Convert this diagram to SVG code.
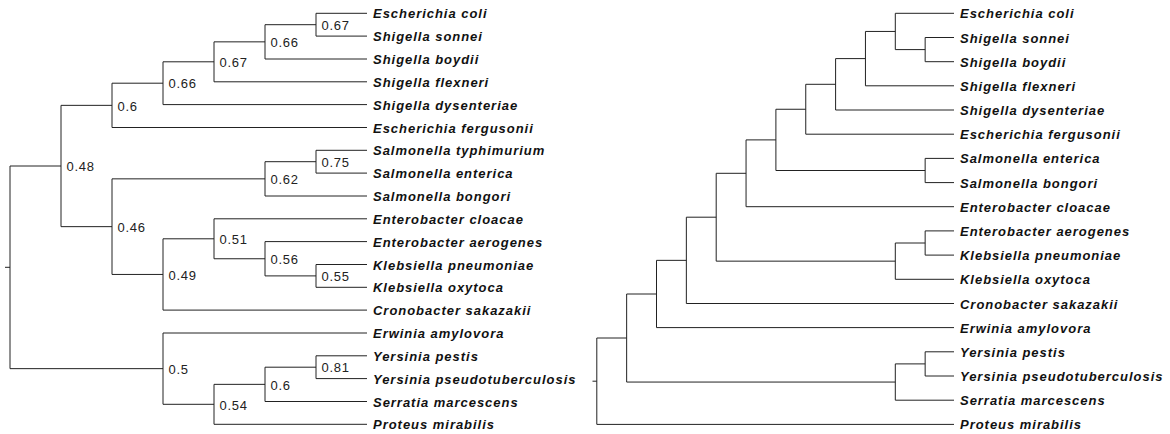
<svg xmlns="http://www.w3.org/2000/svg" width="1170" height="434" viewBox="0 0 1170 434">
<style>
.e{fill:none;stroke:#222;stroke-width:1}
.lf{font-family:"Liberation Sans",Arial,sans-serif;font-size:13px;font-weight:bold;font-style:italic;letter-spacing:0.97px;fill:#111}
.sp{font-family:"Liberation Sans",Arial,sans-serif;font-size:13px;letter-spacing:0.75px;fill:#222}
</style>
<rect width="1170" height="434" fill="#fff"/>
<g id="connectors">
<g id="left-tree-edges">
<path class="e" d="M5,267.3H10M10,166V368.65M10,166H61M10,368.65H163"/>
<path class="e" d="M61,105.35V226.65M61,105.35H112M61,226.65H112"/>
<path class="e" d="M112,83.2V127.5M112,83.2H163M112,127.5H367"/>
<path class="e" d="M163,61.8V104.6M163,61.8H214M163,104.6H367"/>
<path class="e" d="M214,41.85V81.8M214,41.85H265M214,81.8H367"/>
<path class="e" d="M265,24.7V59M265,24.7H316M265,59H367"/>
<path class="e" d="M316,13.3V36.1M316,13.3H367M316,36.1H367"/>
<path class="e" d="M112,178.85V274.45M112,178.85H265M112,274.45H163"/>
<path class="e" d="M265,161.7V196M265,161.7H316M265,196H367"/>
<path class="e" d="M316,150.3V173.1M316,150.3H367M316,173.1H367"/>
<path class="e" d="M163,238.8V310.1M163,238.8H214M163,310.1H367"/>
<path class="e" d="M214,218.8V258.75M214,218.8H367M214,258.75H265"/>
<path class="e" d="M265,241.6V275.9M265,241.6H367M265,275.9H316"/>
<path class="e" d="M316,264.5V287.3M316,264.5H367M316,287.3H367"/>
<path class="e" d="M163,333V404.3M163,333H367M163,404.3H214"/>
<path class="e" d="M214,384.35V424.3M214,384.35H265M214,424.3H367"/>
<path class="e" d="M265,367.2V401.5M265,367.2H316M265,401.5H367"/>
<path class="e" d="M316,355.8V378.6M316,355.8H367M316,378.6H367"/>
</g>
<g id="right-tree-edges">
<path class="e" d="M592.5,381.2H596.8M596.8,338V424.4M596.8,338H626.65M596.8,424.4H954"/>
<path class="e" d="M626.65,294V382.05M626.65,294H656.5M626.65,382.05H895.3"/>
<path class="e" d="M656.5,260.35V327.6M656.5,260.35H686.35M656.5,327.6H954"/>
<path class="e" d="M686.35,217.2V303.5M686.35,217.2H716.2M686.35,303.5H954"/>
<path class="e" d="M716.2,173.3V261.15M716.2,173.3H746.05M716.2,261.15H895.3"/>
<path class="e" d="M746.05,139.9V206.7M746.05,139.9H775.9M746.05,206.7H954"/>
<path class="e" d="M775.9,109.25V170.5M775.9,109.25H805.75M775.9,170.5H925.15"/>
<path class="e" d="M805.75,84.3V134.2M805.75,84.3H835.6M805.75,134.2H954"/>
<path class="e" d="M835.6,58.6V110M835.6,58.6H865.45M835.6,110H954"/>
<path class="e" d="M865.45,31.45V85.8M865.45,31.45H895.3M865.45,85.8H954"/>
<path class="e" d="M895.3,13.3V49.6M895.3,13.3H954M895.3,49.6H925.15"/>
<path class="e" d="M925.15,37.5V61.7M925.15,37.5H954M925.15,61.7H954"/>
<path class="e" d="M925.15,158.4V182.6M925.15,158.4H954M925.15,182.6H954"/>
<path class="e" d="M895.3,243V279.3M895.3,243H925.15M895.3,279.3H954"/>
<path class="e" d="M925.15,230.9V255.1M925.15,230.9H954M925.15,255.1H954"/>
<path class="e" d="M895.3,363.9V400.2M895.3,363.9H925.15M895.3,400.2H954"/>
<path class="e" d="M925.15,351.8V376M925.15,351.8H954M925.15,376H954"/>
</g>
</g>
<g id="left-support">
<g id="ln-a"><text class="sp" x="321.5" y="29.9">0.67</text></g>
<g id="ln-b"><text class="sp" x="270.5" y="47">0.66</text></g>
<g id="ln-c"><text class="sp" x="219.5" y="67">0.67</text></g>
<g id="ln-d"><text class="sp" x="168.5" y="88.4">0.66</text></g>
<g id="ln-e"><text class="sp" x="117.5" y="110.5">0.6</text></g>
<g id="ln-f"><text class="sp" x="321.5" y="166.9">0.75</text></g>
<g id="ln-g"><text class="sp" x="270.5" y="184">0.62</text></g>
<g id="ln-h"><text class="sp" x="321.5" y="281.1">0.55</text></g>
<g id="ln-i"><text class="sp" x="270.5" y="263.9">0.56</text></g>
<g id="ln-j"><text class="sp" x="219.5" y="244">0.51</text></g>
<g id="ln-k"><text class="sp" x="168.5" y="279.6">0.49</text></g>
<g id="ln-l"><text class="sp" x="117.5" y="231.8">0.46</text></g>
<g id="ln-m"><text class="sp" x="66.5" y="171.2">0.48</text></g>
<g id="ln-n"><text class="sp" x="321.5" y="372.4">0.81</text></g>
<g id="ln-o"><text class="sp" x="270.5" y="389.5">0.6</text></g>
<g id="ln-p"><text class="sp" x="219.5" y="409.5">0.54</text></g>
<g id="ln-q"><text class="sp" x="168.5" y="373.8">0.5</text></g>
</g>
<g id="left-leaves">
<g id="L0"><text class="lf" x="373" y="18.3">Escherichia coli</text></g>
<g id="L1"><text class="lf" x="373" y="41.1">Shigella sonnei</text></g>
<g id="L2"><text class="lf" x="373" y="64">Shigella boydii</text></g>
<g id="L3"><text class="lf" x="373" y="86.8">Shigella flexneri</text></g>
<g id="L4"><text class="lf" x="373" y="109.6">Shigella dysenteriae</text></g>
<g id="L5"><text class="lf" x="373" y="132.5">Escherichia fergusonii</text></g>
<g id="L6"><text class="lf" x="373" y="155.3">Salmonella typhimurium</text></g>
<g id="L7"><text class="lf" x="373" y="178.1">Salmonella enterica</text></g>
<g id="L8"><text class="lf" x="373" y="201">Salmonella bongori</text></g>
<g id="L9"><text class="lf" x="373" y="223.8">Enterobacter cloacae</text></g>
<g id="L10"><text class="lf" x="373" y="246.6">Enterobacter aerogenes</text></g>
<g id="L11"><text class="lf" x="373" y="269.5">Klebsiella pneumoniae</text></g>
<g id="L12"><text class="lf" x="373" y="292.3">Klebsiella oxytoca</text></g>
<g id="L13"><text class="lf" x="373" y="315.1">Cronobacter sakazakii</text></g>
<g id="L14"><text class="lf" x="373" y="338">Erwinia amylovora</text></g>
<g id="L15"><text class="lf" x="373" y="360.8">Yersinia pestis</text></g>
<g id="L16"><text class="lf" x="373" y="383.6">Yersinia pseudotuberculosis</text></g>
<g id="L17"><text class="lf" x="373" y="406.5">Serratia marcescens</text></g>
<g id="L18"><text class="lf" x="373" y="429.3">Proteus mirabilis</text></g>
</g>
<g id="right-leaves">
<g id="R0"><text class="lf" x="960" y="18.3">Escherichia coli</text></g>
<g id="R1"><text class="lf" x="960" y="42.5">Shigella sonnei</text></g>
<g id="R2"><text class="lf" x="960" y="66.7">Shigella boydii</text></g>
<g id="R3"><text class="lf" x="960" y="90.8">Shigella flexneri</text></g>
<g id="R4"><text class="lf" x="960" y="115">Shigella dysenteriae</text></g>
<g id="R5"><text class="lf" x="960" y="139.2">Escherichia fergusonii</text></g>
<g id="R6"><text class="lf" x="960" y="163.4">Salmonella enterica</text></g>
<g id="R7"><text class="lf" x="960" y="187.6">Salmonella bongori</text></g>
<g id="R8"><text class="lf" x="960" y="211.7">Enterobacter cloacae</text></g>
<g id="R9"><text class="lf" x="960" y="235.9">Enterobacter aerogenes</text></g>
<g id="R10"><text class="lf" x="960" y="260.1">Klebsiella pneumoniae</text></g>
<g id="R11"><text class="lf" x="960" y="284.3">Klebsiella oxytoca</text></g>
<g id="R12"><text class="lf" x="960" y="308.5">Cronobacter sakazakii</text></g>
<g id="R13"><text class="lf" x="960" y="332.6">Erwinia amylovora</text></g>
<g id="R14"><text class="lf" x="960" y="356.8">Yersinia pestis</text></g>
<g id="R15"><text class="lf" x="960" y="381">Yersinia pseudotuberculosis</text></g>
<g id="R16"><text class="lf" x="960" y="405.2">Serratia marcescens</text></g>
<g id="R17"><text class="lf" x="960" y="429.4">Proteus mirabilis</text></g>
</g>
</svg>
